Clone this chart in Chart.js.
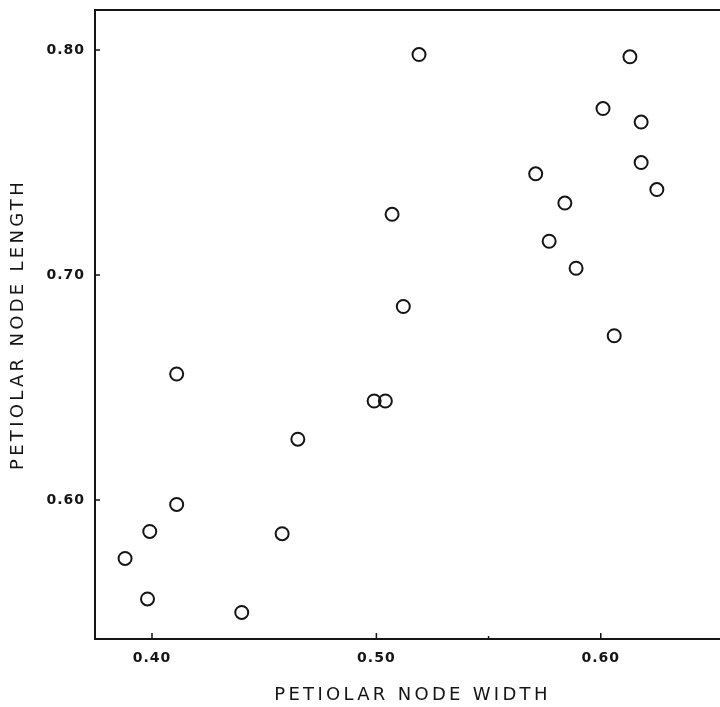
<!DOCTYPE html>
<html>
<head>
<meta charset="utf-8">
<script src="https://cdn.jsdelivr.net/npm/chart.js@4.4.0/dist/chart.umd.min.js"></script>
<style>
  html, body { margin: 0; padding: 0; background: #fff; overflow: hidden; }
  #wrap { width: 740px; height: 707px; }
</style>
</head>
<body>
<div id="wrap"><canvas id="myChart" width="740" height="707"></canvas></div>
<script>
// node width vs node length
const nodeWidth = [0.519, 0.613, 0.601, 0.618, 0.618, 0.571, 0.625, 0.584, 0.507, 0.577, 0.589, 0.512,
                   0.606, 0.411, 0.499, 0.504, 0.465, 0.411, 0.399, 0.458, 0.388, 0.398, 0.440];
const nodeLength = [0.798, 0.797, 0.774, 0.768, 0.750, 0.745, 0.738, 0.732, 0.727, 0.715, 0.703, 0.686,
                    0.673, 0.656, 0.644, 0.644, 0.627, 0.598, 0.586, 0.585, 0.574, 0.556, 0.550];

const xTicks = [0.40, 0.50, 0.60];
const xMinorTicks = [0.55];
const yTicks = [0.60, 0.70, 0.80];

const points = nodeWidth.map((w, i) => ({ x: w, y: nodeLength[i] }));
const ink = '#151515';

// frame top line + inward tick marks, letter spacing for the lettering
const framePlugin = {
    id: 'frame',
    beforeDraw(chart) {
        chart.ctx.letterSpacing = '3.3px';
    },
    afterDatasetsDraw(chart) {
        chart.ctx.letterSpacing = '1px';
    },
    afterDraw(chart) {
        const ctx = chart.ctx;
        const a = chart.chartArea;
        const xs = chart.scales.x, ys = chart.scales.y;
        ctx.save();
        ctx.strokeStyle = ink;
        ctx.lineWidth = 2;
        ctx.beginPath();
        ctx.moveTo(a.left - 1, a.top);
        ctx.lineTo(a.right, a.top);
        ctx.stroke();
        ctx.lineWidth = 1.5;
        ctx.beginPath();
        xTicks.forEach(v => {
            const px = xs.getPixelForValue(v);
            ctx.moveTo(px, a.bottom);
            ctx.lineTo(px, a.bottom - 6);
        });
        xMinorTicks.forEach(v => {
            const px = xs.getPixelForValue(v);
            ctx.moveTo(px, a.bottom);
            ctx.lineTo(px, a.bottom - 3);
        });
        yTicks.forEach(v => {
            const py = ys.getPixelForValue(v);
            ctx.moveTo(a.left, py);
            ctx.lineTo(a.left + 5, py);
        });
        ctx.stroke();
        ctx.restore();
    }
};

const ctx = document.getElementById('myChart').getContext('2d');
const myChart = new Chart(ctx, {
    type: 'scatter',
    data: {
        datasets: [{
            label: 'nodes',
            data: points,
            pointStyle: 'circle',
            pointRadius: 6.5,
            pointBorderWidth: 2,
            borderColor: ink,
            backgroundColor: 'rgba(255,255,255,0)'
        }]
    },
    options: {
        responsive: false,
        animation: false,
        devicePixelRatio: 1,
        layout: { padding: { top: 10, right: 10, left: 0, bottom: 0 } },
        plugins: {
            legend: { display: false },
            tooltip: { enabled: false }
        },
        scales: {
            x: {
                type: 'linear',
                min: 0.3746,
                max: 0.6576,
                grid: { display: false, drawTicks: false, z: 0 },
                border: { display: true, color: ink, width: 2 },
                afterBuildTicks: function(scale) {
                    scale.ticks = xTicks.map(v => ({ value: v }));
                },
                afterFit: function(scale) {
                    scale.height = 68;
                    scale.paddingLeft = 0;
                    scale.paddingRight = 0;
                },
                ticks: {
                    z: 1,
                    padding: 11,
                    color: ink,
                    font: { family: 'DejaVu Sans', size: 14, weight: 'bold' },
                    callback: function(value) { return value.toFixed(2); }
                },
                title: {
                    display: true,
                    text: 'PETIOLAR NODE WIDTH',
                    color: ink,
                    padding: { top: 0, bottom: 1 },
                    font: { family: 'DejaVu Sans', size: 18 }
                }
            },
            y: {
                type: 'linear',
                min: 0.5382,
                max: 0.8178,
                grid: { display: false, drawTicks: false, z: 0 },
                border: { display: true, color: ink, width: 2 },
                afterBuildTicks: function(scale) {
                    scale.ticks = yTicks.map(v => ({ value: v }));
                },
                afterFit: function(scale) {
                    scale.width = 95;
                    scale.paddingTop = 0;
                    scale.paddingBottom = 0;
                },
                ticks: {
                    z: 1,
                    padding: 10,
                    color: ink,
                    font: { family: 'DejaVu Sans', size: 14, weight: 'bold' },
                    callback: function(value) { return value.toFixed(2); }
                },
                title: {
                    display: true,
                    text: 'PETIOLAR NODE LENGTH',
                    color: ink,
                    padding: { top: 8, bottom: 0 },
                    font: { family: 'DejaVu Sans', size: 18 }
                }
            }
        }
    },
    plugins: [framePlugin]
});
</script>
</body>
</html>
